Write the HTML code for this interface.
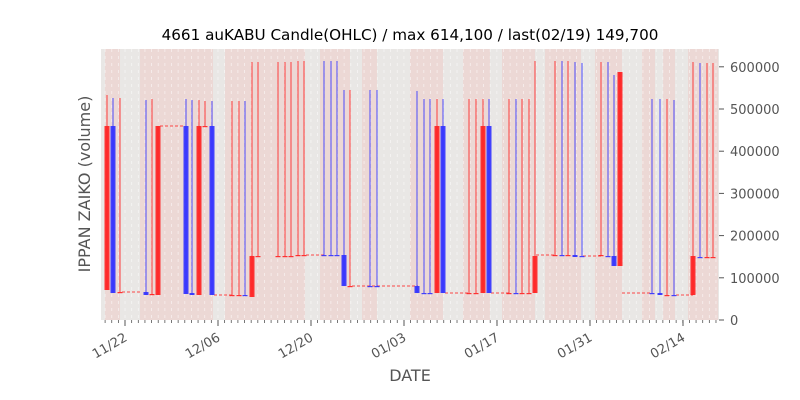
<!DOCTYPE html>
<html><head><meta charset="utf-8"><style>
body{margin:0;background:#fff;width:800px;height:400px;overflow:hidden}
svg{display:block;font-family:"DejaVu Sans","Liberation Sans",sans-serif}
</style></head><body>
<svg id="s" width="800" height="400" xmlns="http://www.w3.org/2000/svg">
<rect x="101" y="49" width="618" height="271" fill="#e9e7e5"/>
<g id="bands"></g><g id="grid"></g><g id="c"></g><g id="ax"></g>
<text x="410" y="40" font-size="15.2" text-anchor="middle" fill="#000">4661 auKABU Candle(OHLC) / max 614,100 / last(02/19) 149,700</text>
<text x="410" y="381" font-size="16" text-anchor="middle" fill="#555">DATE</text>
<text transform="translate(90,184) rotate(-90)" font-size="16" text-anchor="middle" fill="#555">IPPAN ZAIKO (volume)</text>
</svg>
<script>
const NS="http://www.w3.org/2000/svg";
function el(p,t,a){const e=document.createElementNS(NS,t);for(const k in a)e.setAttribute(k,a[k]);document.getElementById(p).appendChild(e);return e;}
const pink=[[105,120],[140,213],[225,305],[320,350],[362,377],[410,443],[463,490],[502,535],[545,581],[595,622],[642,655],[663,675],[688,718]];
pink.forEach(b=>el("bands","rect",{x:b[0],y:49,width:b[1]-b[0],height:271,fill:"#ecd8d5"}));
for(let d=0;d<=92;d++){const x=105.1+d*6.64;el("grid","line",{x1:x,x2:x,y1:49,y2:320,stroke:"#fff","stroke-width":0.8,"stroke-dasharray":"3,4",opacity:0.6});
 el("ax","line",{x1:x,x2:x,y1:320,y2:323,stroke:"#555","stroke-width":0.8});}
const labs=["11/22","12/06","12/20","01/03","01/17","01/31","02/14"];
labs.forEach((l,i)=>{const x=125+i*93;el("ax","line",{x1:x,x2:x,y1:320,y2:326,stroke:"#555","stroke-width":1});
 const t=el("ax","text",{x:0,y:0,"font-size":13,"text-anchor":"end",fill:"#555",transform:`translate(${x+3},${340}) rotate(-30)`});t.textContent=l;});
for(let v=0;v<=6;v++){const y=320-v*42.2;el("ax","line",{x1:719,x2:724,y1:y,y2:y,stroke:"#555"});
 const t=el("ax","text",{x:730,y:y+5,"font-size":13,fill:"#555"});t.textContent=v?v*100000:"0";}
const R="#ff2020",B="#3030ff";
const C=[[107,R,126,290,95],[113,B,126,293,98],[120,R,292,292,98],[146,B,292,295,100],[152,R,294,295,99],[158,R,126,295,126],
[186,B,126,294,99],[192,B,293,295,100],[199,R,126,295,100],[205,R,126,126,101],[212,B,126,295,101],
[232,R,295,295,101],[239,R,295,295,101],[245,B,295,296,101],[252,R,256,297,62],[258,R,256,256,62],
[278,R,256,256,62],[285,R,256,256,62],[291,R,256,256,62],[298,R,255,256,61],[304,R,255,255,61],
[324,B,255,255,61],[331,B,255,255,61],[337,B,255,255,61],[344,B,255,286,90],[350,R,286,286,90],[370,B,286,286,90],[377,B,286,286,90],
[417,B,286,293,91],[424,B,293,293,99],[430,B,293,293,99],[437,R,126,293,99],[443,B,126,293,99],
[469,R,293,293,99],[476,R,293,293,99],[483,R,126,293,99],[489,B,126,293,99],
[509,R,293,293,99],[516,B,293,293,99],[522,R,293,293,99],[529,R,293,293,99],[535,R,256,293,61],
[555,R,255,255,61],[562,B,255,255,61],[568,R,255,255,61],[575,B,255,257,62],[582,B,256,256,63],
[601,R,255,256,62],[608,B,256,256,62],[614,B,256,266,75],[620,R,72,266,72],
[652,B,293,293,99],[660,B,293,295,99],[667,R,295,295,99],[674,B,295,295,100],
[693,R,256,295,62],[700,B,257,257,63],[707,R,257,257,63],[713,R,257,257,63]];
[[122,140,292],[160,185,126],[214,232,295],[306,324,255],[352,418,286],[445,469,293],[491,509,293],[536,555,255],[583,601,256],[622,652,293],[676,693,295]].forEach(s=>
 el("c","line",{x1:s[0],x2:s[1],y1:s[2],y2:s[2],stroke:R,"stroke-width":1,"stroke-dasharray":"3,2",opacity:0.8}));
C.forEach(c=>{const [x,col,t,b,w]=c;
 el("c","line",{x1:x,x2:x,y1:w,y2:b,stroke:col,"stroke-width":1,opacity:0.85});
 el("c","rect",{x:x-2.5,y:t,width:5,height:Math.max(1.2,b-t),fill:col,opacity:0.9});});
</script>
</body></html>
